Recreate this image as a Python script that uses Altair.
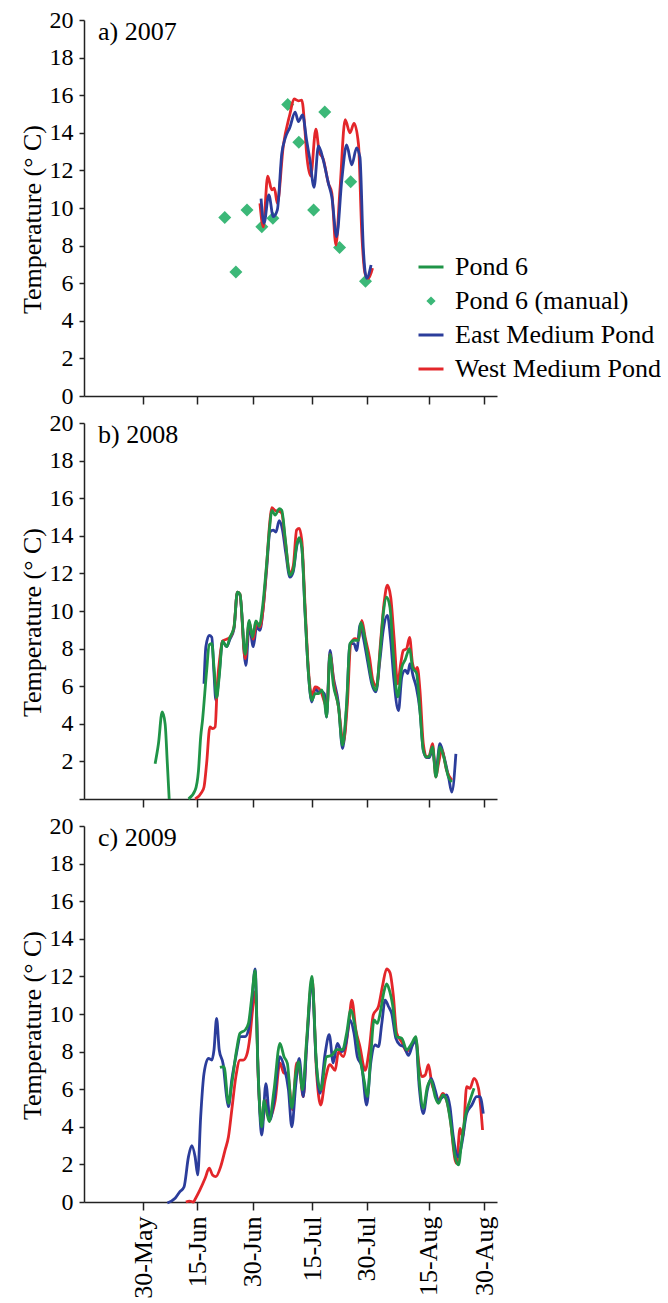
import altair as alt
import pandas as pd

FONT = "Liberation Serif, Times New Roman, serif"

SERIES = ["Pond 6", "Pond 6 (manual)", "East Medium Pond", "West Medium Pond"]
COLORS = ["#1f9447", "#3cb878", "#2b3d9b", "#e3262a"]
SHAPES = ["stroke", "M0,-0.2L0.2,0L0,0.2L-0.2,0Z", "stroke", "stroke"]

# x axis: day of year, tick positions and their labels
TICK_DOY = [150, 164.6, 179.6, 195.6, 210.4, 227.1, 242]
TICK_LABELS = ["30-May", "15-Jun", "30-Jun", "15-Jul", "30-Jul", "15-Aug", "30-Aug"]
Y_TICKS = [0, 2, 4, 6, 8, 10, 12, 14, 16, 18, 20]
PANEL_LABELS = ["a) 2007", "b) 2008", "c) 2009"]

# ---------------- 2007 ----------------
west07_doy = [181.5, 182.4, 183.6, 184.7, 185.4, 186.2, 187.8, 189.6, 190.7, 191.9, 192.8, 193.7,
              194.1, 195.2, 196.6, 197.5, 198.6, 200.0, 200.9, 202.0, 203.1, 204.5, 205.8, 206.9,
              208.1, 209.0, 209.9, 210.8, 211.9]
west07_val = [10.25, 9.0, 11.7, 10.96, 11.05, 10.25, 13.3, 15.0, 15.8, 15.7, 15.74, 14.0,
              12.9, 11.7, 14.2, 13.0, 12.6, 11.3, 10.8, 8.03, 10.96, 14.7, 14.0, 14.5,
              13.4, 8.65, 6.5, 6.26, 6.8]
east07_doy = [181.8, 182.6, 183.9, 185.1, 186.2, 187.4, 188.3, 189.6, 191.0, 191.9, 193.0, 194.1,
              195.0, 196.1, 197.3, 198.6, 200.0, 200.9, 202.2, 203.6, 204.9, 206.3, 207.6, 208.5,
              209.4, 210.3, 211.5]
east07_val = [10.5, 9.19, 10.7, 9.54, 9.9, 12.9, 13.7, 14.3, 15.1, 14.6, 14.95, 13.6,
              12.55, 11.1, 13.3, 12.55, 11.3, 10.6, 8.47, 11.5, 13.35, 12.3, 13.2, 12.7,
              7.9, 6.26, 6.97]
manual07_doy = [172, 175, 178, 182, 185, 189, 192, 196, 199, 203, 206, 210]
manual07_val = [9.5, 6.6, 9.9, 9.0, 9.45, 15.5, 13.5, 9.9, 15.1, 7.9, 11.4, 6.1]

# ---------------- 2008 ----------------
pond08a_doy = [153.2, 154.1, 155.1, 155.9, 156.5, 157.0]
pond08a_val = [1.88, 2.94, 4.63, 4.0, 1.88, 0.0]
pond08b_doy = [162.2, 164.0, 164.9, 165.5, 166.0, 167.1, 167.8, 168.5, 169.1, 169.8, 170.5, 171.4,
               172.5, 173.4, 174.5, 175.4, 176.1, 177.5, 178.6, 179.5, 180.4, 181.3, 182.2, 183.3,
               184.2, 184.7, 185.6, 186.7, 187.4, 188.3, 189.6, 190.5, 191.4, 192.1, 192.8, 193.7,
               194.6, 195.5, 196.4, 197.3, 198.2, 198.9, 199.5, 200.4, 201.3, 202.7, 203.8, 204.9,
               205.8, 206.9, 208.1, 208.7, 209.4, 210.5, 211.7, 212.8, 213.9, 214.8, 215.7, 216.6,
               217.5, 218.7, 219.8, 220.7, 221.9, 222.7, 223.8, 224.7, 225.6, 226.5, 227.2, 228.1,
               229.0, 230.1, 231.0, 232.4, 233.3]
pond08b_val = [0.0, 0.46, 1.5, 3.3, 4.2, 6.8, 8.2, 8.26, 7.0, 5.4, 6.5, 8.4,
               8.1, 8.6, 9.15, 11.0, 10.9, 7.7, 9.5, 8.6, 9.47, 9.2, 10.2, 12.5,
               14.6, 15.35, 15.1, 15.44, 15.35, 13.9, 11.9, 12.2, 13.5, 13.9, 13.4, 9.86,
               6.67, 5.25, 5.6, 5.6, 5.8, 5.25, 4.36, 7.7, 6.1, 4.9, 2.85, 5.07,
               8.26, 8.44, 8.44, 9.4, 8.97, 7.73, 6.3, 5.78, 7.73, 9.86, 10.74, 10.2,
               7.73, 5.43, 7.0, 7.4, 8.0, 7.0, 6.67, 4.7, 2.6, 2.23, 2.27, 2.77,
               1.17, 2.77, 2.32, 1.17, 0.9]
east08_doy = [166.4, 166.9, 167.8, 168.5, 169.1, 169.6, 170.5, 171.4, 172.5, 173.4, 174.5, 175.4,
              176.1, 177.7, 178.6, 179.7, 180.6, 181.5, 182.4, 183.3, 184.2, 185.1, 185.8, 186.7,
              187.6, 188.5, 189.6, 190.5, 191.4, 192.1, 192.8, 193.7, 194.6, 195.5, 196.4, 197.3,
              198.2, 198.9, 199.5, 200.4, 201.3, 202.7, 203.8, 204.9, 205.8, 206.9, 207.6, 208.6,
              209.4, 210.5, 211.7, 212.8, 213.9, 214.8, 215.9, 216.8, 217.6, 218.9, 219.8, 220.7,
              221.4, 222.0, 222.9, 223.7, 224.7, 225.6, 226.5, 227.2, 228.1, 229.0, 230.1, 231.0,
              232.4, 233.3, 234.4]
east08_val = [6.13, 8.1, 8.7, 8.6, 6.67, 5.25, 6.67, 8.4, 8.1, 8.5, 9.06, 11.0,
              10.85, 7.1, 9.24, 8.1, 9.15, 8.97, 10.2, 12.2, 14.2, 14.3, 14.2, 14.8,
              14.3, 13.05, 11.8, 12.1, 13.4, 13.85, 13.4, 9.86, 6.67, 5.16, 5.87, 5.7,
              5.7, 5.6, 4.36, 7.9, 6.5, 5.07, 2.68, 4.9, 8.26, 8.26, 7.9, 9.3,
              8.6, 7.4, 6.13, 5.7, 7.4, 9.0, 9.77, 8.44, 6.5, 4.7, 6.5, 6.85,
              6.67, 7.2, 6.5, 5.96, 4.7, 2.6, 2.2, 2.2, 2.6, 1.5, 2.94, 2.4,
              1.2, 0.37, 2.4]
west08_doy = [164.0, 165.8, 166.4, 167.1, 168.0, 168.7, 169.4, 170.0, 170.7, 171.4, 172.5, 173.4,
              174.5, 175.4, 176.1, 177.5, 178.6, 179.7, 180.6, 181.5, 182.4, 183.3, 184.2, 184.7,
              185.6, 186.7, 187.4, 188.3, 189.6, 190.5, 191.4, 192.1, 192.8, 193.7, 194.6, 195.5,
              196.4, 197.3, 198.2, 199.0, 199.6, 200.4, 201.5, 202.7, 204.0, 205.1, 206.0, 207.2,
              208.1, 209.0, 209.9, 211.1, 212.0, 213.0, 214.1, 215.0, 215.9, 216.8, 217.7, 218.7,
              219.5, 220.2, 221.1, 221.9, 222.7, 223.4, 224.0, 224.7, 225.6, 226.5, 227.2, 228.1,
              229.0, 229.7, 230.6, 231.9, 233.3]
west08_val = [0.0, 0.37, 0.64, 1.88, 3.83, 3.74, 3.83, 6.13, 7.55, 8.4, 8.5, 8.6,
              9.15, 11.0, 10.9, 7.46, 9.4, 8.5, 9.4, 9.15, 10.2, 12.4, 14.8, 15.5,
              15.35, 15.3, 15.2, 13.8, 12.0, 12.4, 14.3, 14.4, 13.76, 10.2, 6.85, 5.5,
              5.96, 5.9, 5.6, 5.1, 4.8, 7.7, 6.1, 4.9, 3.0, 5.07, 8.26, 8.53,
              8.44, 9.5, 8.6, 7.5, 6.3, 6.0, 8.44, 10.4, 11.37, 10.74, 8.6, 6.13,
              7.2, 7.9, 8.0, 8.6, 7.2, 6.85, 7.0, 5.78, 2.94, 2.23, 2.3, 2.94,
              1.17, 1.88, 2.6, 1.52, 1.0]

# ---------------- 2009 ----------------
east09_doy = [156.5, 158.6, 159.9, 161.0, 162.2, 163.1, 164.0, 164.7, 165.5, 166.4, 167.6, 168.5,
              169.1, 169.8, 170.5, 171.6, 172.5, 173.0, 173.9, 175.0, 176.3, 177.5, 178.4, 179.3,
              180.2, 181.0, 182.0, 183.1, 184.2, 185.3, 186.9, 188.0, 189.2, 190.1, 191.2, 192.1,
              193.2, 194.1, 195.6, 196.6, 197.7, 199.1, 200.2, 201.3, 202.4, 203.6, 204.7, 205.8,
              206.9, 207.8, 209.0, 210.3, 211.4, 212.6, 213.5, 214.4, 215.3, 216.2, 217.1, 218.2,
              219.3, 220.4, 221.6, 222.7, 223.6, 224.5, 225.6, 226.7, 227.7, 228.8, 229.7, 230.9,
              231.9, 232.8, 233.7, 235.1, 236.0, 237.3, 238.7, 240.0, 240.9, 241.8]
east09_val = [-0.05, 0.2, 0.55, 0.8, 2.4, 3.0, 2.4, 1.44, 4.54, 6.84, 7.64, 7.55,
              8.1, 9.77, 8.1, 7.3, 5.6, 5.07, 6.5, 7.73, 8.8, 8.8, 9.15, 10.6,
              12.4, 7.0, 3.56, 6.3, 4.36, 5.4, 7.73, 7.2, 5.96, 4.0, 6.3, 7.64,
              5.6, 8.26, 11.7, 7.73, 5.78, 7.9, 8.9, 7.4, 8.44, 8.0, 8.44, 9.68,
              8.97, 7.73, 7.2, 5.16, 7.38, 8.35, 8.26, 9.5, 10.74, 10.4, 10.0, 8.7,
              8.35, 8.26, 7.8, 8.35, 8.6, 6.13, 4.7, 5.96, 6.58, 5.96, 5.4, 5.6,
              5.7, 5.07, 3.47, 2.4, 3.1, 4.7, 5.16, 5.6, 5.6, 4.7]
west09_doy = [161.5, 162.5, 163.5, 164.0, 165.3, 166.7, 167.8, 168.7, 169.6, 170.9, 172.1, 173.0,
              173.9, 175.0, 176.1, 177.0, 177.9, 178.8, 179.5, 180.3, 181.1, 182.0, 183.3, 184.2,
              185.6, 186.9, 188.0, 188.9, 190.3, 191.4, 192.3, 193.2, 194.1, 195.6, 196.8, 197.9,
              199.1, 200.4, 201.8, 202.7, 204.0, 205.4, 206.3, 207.4, 208.5, 209.9, 211.0, 212.1,
              213.5, 214.6, 215.7, 216.6, 217.5, 218.4, 219.8, 221.1, 222.5, 223.6, 224.5, 225.2,
              226.1, 227.0, 227.9, 228.8, 229.7, 230.9, 231.9, 232.8, 234.2, 234.6, 235.5, 236.3,
              237.3, 238.2, 239.3, 240.5, 241.6]
west09_val = [0.0, 0.05, 0.0, 0.15, 0.64, 1.26, 1.8, 1.44, 1.35, 1.88, 2.77, 3.47,
              4.9, 6.67, 7.55, 7.55, 7.8, 8.8, 10.2, 11.2, 6.3, 4.2, 5.4, 4.5,
              5.4, 7.4, 6.85, 6.85, 4.9, 7.4, 6.85, 5.6, 8.44, 11.8, 6.84, 5.16,
              6.5, 7.3, 7.0, 8.0, 7.73, 9.3, 10.74, 9.15, 8.26, 7.0, 8.1, 9.95,
              10.4, 11.5, 12.4, 12.2, 11.0, 9.0, 8.5, 8.0, 8.35, 8.6, 7.2, 6.67,
              6.75, 7.3, 6.3, 5.78, 5.4, 5.78, 5.4, 4.54, 2.23, 2.06, 3.92, 3.47,
              6.13, 6.05, 6.58, 6.05, 3.83]
pond09_doy = [170.7, 171.8, 173.0, 173.9, 175.2, 176.1, 177.5, 178.4, 179.3, 180.2, 180.9, 182.0,
              182.6, 184.0, 185.3, 186.9, 188.0, 188.9, 190.1, 191.2, 191.9, 193.0, 194.1, 195.5,
              196.8, 197.9, 199.5, 200.9, 202.2, 203.8, 204.9, 206.0, 207.2, 208.3, 209.6, 210.5,
              211.4, 212.3, 213.2, 214.1, 215.0, 215.7, 216.4, 217.3, 218.4, 219.8, 221.1, 222.5,
              223.6, 224.5, 225.6, 226.7, 227.7, 228.8, 229.7, 230.9, 231.9, 233.0, 234.2, 235.1,
              236.0, 237.1, 238.2, 239.3]
pond09_val = [7.16, 7.2, 5.25, 6.3, 8.1, 8.97, 9.15, 9.5, 10.9, 12.3, 7.5, 4.0,
              5.4, 4.27, 5.96, 8.44, 7.73, 7.38, 5.0, 6.85, 7.46, 5.96, 8.6, 12.0,
              7.2, 5.96, 7.73, 7.8, 8.1, 8.1, 8.97, 10.2, 9.3, 7.9, 6.5, 5.6,
              7.73, 9.68, 9.5, 10.2, 11.2, 11.6, 11.3, 10.5, 8.8, 8.7, 8.1, 8.44,
              8.8, 6.5, 5.0, 6.13, 6.5, 5.6, 5.25, 5.7, 5.4, 4.2, 2.4, 1.97,
              3.3, 4.7, 5.4, 6.05]


def frame(series, doy, val, seg=0):
    return pd.DataFrame({"series": series, "doy": doy, "temp": val, "seg": seg})


color_scale = alt.Scale(domain=SERIES, range=COLORS)
shape_scale = alt.Scale(domain=SERIES, range=SHAPES)
x_scale = alt.Scale(domain=[134, 245.5], nice=False, zero=False)
y_scale = alt.Scale(domain=[0, 20], nice=False, zero=False)

label_expr = " : ".join(
    f"datum.value == {v} ? '{l}'" for v, l in zip(TICK_DOY, TICK_LABELS)
) + " : ''"

legend = alt.Legend(
    title=None, orient="none", legendX=333, legendY=233,
    labelFont=FONT, labelFontSize=26, labelColor="black", labelLimit=400,
    symbolSize=625, symbolStrokeWidth=3, labelOffset=10, rowPadding=7, padding=0,
)

W, H = 413, 376


def x_axis(show_labels):
    if show_labels:
        return alt.Axis(values=TICK_DOY, labelExpr=label_expr, labelAngle=270, title=None,
                        tickSize=8, labelPadding=6, labelFontSize=26)
    return alt.Axis(values=TICK_DOY, labels=False, title=None, tickSize=8)


def y_axis(hide_zero):
    kw = dict(values=Y_TICKS, title="Temperature (° C)", tickSize=5, labelPadding=6,
              titlePadding=4, titleY=H / 2 + 11)
    if hide_zero:
        kw["labelExpr"] = "datum.value == 0 ? '' : datum.label"
    return alt.Axis(**kw)


def lines(df, order, xa, ya, with_legend):
    layers = []
    for s in order:
        layers.append(
            alt.Chart(df).transform_filter(alt.datum.series == s)
            .mark_line(strokeWidth=2.8, interpolate="monotone")
            .encode(
                x=alt.X("doy:Q", scale=x_scale, axis=xa),
                y=alt.Y("temp:Q", scale=y_scale, axis=ya),
                color=alt.Color("series:N", scale=color_scale,
                                legend=legend if with_legend else None),
                detail="seg:N",
                order="doy:Q",
            )
        )
    return layers


def panel_label(i):
    return alt.Chart(pd.DataFrame({"label": [PANEL_LABELS[i]]})).mark_text(
        font=FONT, fontSize=26, align="left", baseline="alphabetic", color="black"
    ).encode(x=alt.value(14), y=alt.value(20), text="label:N")


# Panel a
df07 = pd.concat([
    frame("West Medium Pond", west07_doy, west07_val),
    frame("East Medium Pond", east07_doy, east07_val),
])
man07 = frame("Pond 6 (manual)", manual07_doy, manual07_val)
pts = alt.Chart(man07).mark_point(filled=True, opacity=1, strokeWidth=0).encode(
    x=alt.X("doy:Q", scale=x_scale, axis=x_axis(False)),
    y=alt.Y("temp:Q", scale=y_scale, axis=y_axis(False)),
    color=alt.Color("series:N", scale=color_scale, legend=legend),
    shape=alt.Shape("series:N", scale=shape_scale, legend=legend),
    size=alt.value(4225),
)
panel_a = alt.layer(
    pts, *lines(df07, ["West Medium Pond", "East Medium Pond"], x_axis(False), y_axis(False), True),
    panel_label(0)
).properties(width=W, height=H)

# Panel b
df08 = pd.concat([
    frame("Pond 6", pond08a_doy, pond08a_val, 0),
    frame("Pond 6", pond08b_doy, pond08b_val, 1),
    frame("East Medium Pond", east08_doy, east08_val),
    frame("West Medium Pond", west08_doy, west08_val),
])
panel_b = alt.layer(
    *lines(df08, ["East Medium Pond", "West Medium Pond", "Pond 6"], x_axis(False), y_axis(True), False),
    panel_label(1)
).properties(width=W, height=H)

# Panel c
df09 = pd.concat([
    frame("Pond 6", pond09_doy, pond09_val),
    frame("East Medium Pond", east09_doy, east09_val),
    frame("West Medium Pond", west09_doy, west09_val),
])
panel_c = alt.layer(
    *lines(df09, ["West Medium Pond", "East Medium Pond", "Pond 6"], x_axis(True), y_axis(False), False),
    panel_label(2)
).properties(width=W, height=H)

chart = alt.vconcat(panel_a, panel_b, panel_c, spacing=27, bounds="flush").resolve_scale(
    color="independent", shape="independent"
).resolve_legend(color="independent", shape="independent").configure(
    padding={"left": 19, "top": 8, "right": 0, "bottom": 0},
    background="white",
).configure_view(stroke=None).configure_axis(
    grid=False, domainColor="#222", tickColor="#222", domainWidth=1.5, tickWidth=1.5,
    labelFont=FONT, labelFontSize=24, labelColor="black",
    titleFont=FONT, titleFontSize=26, titleFontWeight="normal", titleColor="black",
)

chart.save("out.html", embed_options={"renderer": "svg", "actions": False})
